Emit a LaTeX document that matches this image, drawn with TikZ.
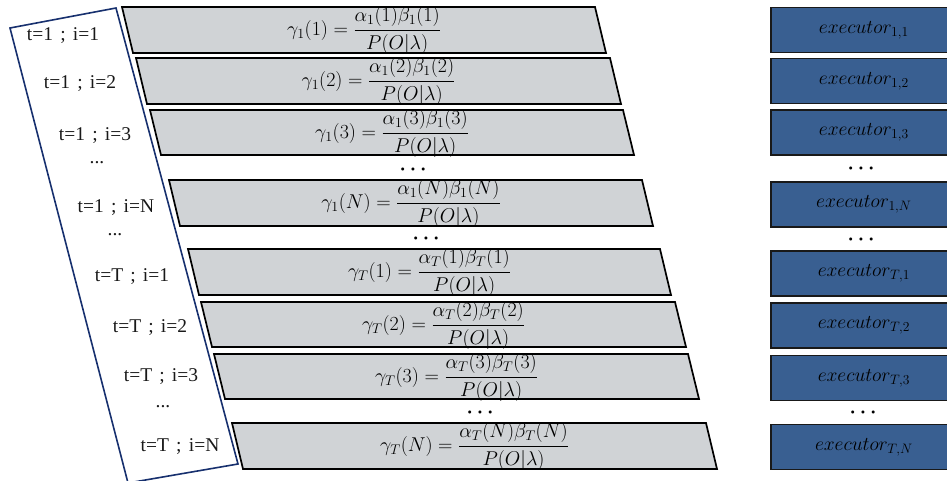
\RequirePackage{fix-cm}
\documentclass[tikz,border=0pt]{standalone}
\usepackage{amsmath}
\usepackage{fontspec}
\setmainfont{Liberation Serif}
\definecolor{paragray}{RGB}{208,211,214}
\definecolor{exblue}{RGB}{57,95,145}
\definecolor{navy}{RGB}{23,48,110}
\newcommand{\lsp}{\hspace{0.12em}}
\begin{document}
\begin{tikzpicture}[x=1pt,y=-1pt,
  para/.style={draw=black,line width=1.7pt,fill=paragray,line join=miter},
  exbox/.style={draw=black!90,line width=1.7pt,fill=exblue,anchor=west,
    minimum width=186pt,minimum height=45pt,inner sep=0pt,
    font=\fontsize{19.5}{22}\selectfont,text=black},
  lbl/.style={font=\fontsize{19.5}{22}\selectfont,inner sep=0pt,text=black!90},
  frm/.style={font=\fontsize{20}{22}\selectfont,inner sep=0pt,text=black},
  dotsr/.style={font=\boldmath\fontsize{20}{22}\selectfont,inner sep=0pt},
  bluefr/.style={draw=navy,line width=1.6pt,line join=miter}]
\useasboundingbox (0,0) rectangle (947,481);

\draw[bluefr] (10,28) -- (116,8) -- (238,464) -- (128,483) -- cycle;

\foreach \n/\t/\b/\l/\r/\s/\i in {1/7/53/122/595/1/1, 2/58/104/136/610/1/2,
    3/110/155/150/623/1/3, 4/180/226/169/642/1/N, 5/249/295/188/660/T/1,
    6/302/347/201/675/T/2, 7/354/399/214/688/T/3, 8/423/469/232/706/T/N}{
  \draw[para] (\l,\t) -- (\r,\t) -- ({\r+11},\b) -- ({\l+11},\b) -- cycle;
  \node[frm] (f\n) at ({(\l+\r)/2+5.5},{\t+23.5})
    {$\gamma_{\s}(\i)=\dfrac{\alpha_{\s}(\i)\beta_{\s}(\i)}{P(O|\lambda)}$};
}

\foreach \n/\t/\b/\s/\i in {1/7/53/1/1, 2/58/104/1/2, 3/110/155/1/3,
    4/182/227/1/N, 5/251/296/T/1, 6/303/348/T/2, 7/355/401/T/3, 8/424/470/T/N}{
  \node[exbox] (e\n) at (770,{(\t+\b)/2}) {$executor_{\s,\i}$};
}

\node[lbl] (l1) at (63,36) {t=1 \lsp; \lsp i=1};
\node[lbl] (l2) at (80,84) {t=1 \lsp; \lsp i=2};
\node[lbl] (l3) at (95,136) {t=1 \lsp; \lsp i=3};
\node[lbl] (ld1) at (97,163) {...};
\node[lbl] (l4) at (116,208) {t=1 \lsp; \lsp i=N};
\node[lbl] (ld2) at (115,235) {...};
\node[lbl] (l5) at (132,277) {t=T \lsp; \lsp i=1};
\node[lbl] (l6) at (150,328) {t=T \lsp; \lsp i=2};
\node[lbl] (l7) at (161,377) {t=T \lsp; \lsp i=3};
\node[lbl] (ld3) at (163,407) {...};
\node[lbl] (l8) at (180,447) {t=T \lsp; \lsp i=N};

\node[dotsr] (fd1) at (415,170) {$\cdots$};
\node[dotsr] (fd2) at (428,239) {$\cdots$};
\node[dotsr] (fd3) at (482,413) {$\cdots$};

\node[dotsr] (ed1) at (863,169) {$\cdots$};
\node[dotsr] (ed2) at (863,240) {$\cdots$};
\node[dotsr] (ed3) at (865,413) {$\cdots$};
\end{tikzpicture}
\end{document}
